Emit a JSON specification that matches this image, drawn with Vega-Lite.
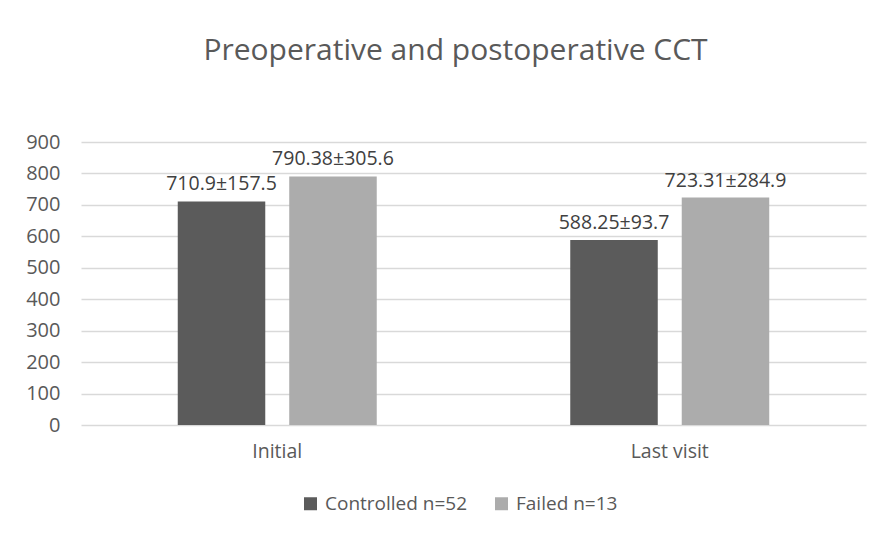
{
  "$schema": "https://vega.github.io/schema/vega-lite/v6.json",
  "width": 785,
  "height": 283,
  "autosize": "none",
  "padding": {"left": 81, "top": 142, "right": 21, "bottom": 108},
  "background": "white",
  "config": {"font": "Open Sans", "view": {"stroke": null}},
  "title": {"text": "Preoperative and postoperative CCT", "fontSize": 30, "fontWeight": "normal", "color": "#595959", "anchor": "middle", "dx": -18, "offset": 66, "font": "Open Sans"},
  "data": {"values": [
    {"visit": "Initial", "group": "Controlled n=52", "value": 710.9, "label": "710.9±157.5"},
    {"visit": "Initial", "group": "Failed n=13", "value": 790.38, "label": "790.38±305.6"},
    {"visit": "Last visit", "group": "Controlled n=52", "value": 588.25, "label": "588.25±93.7"},
    {"visit": "Last visit", "group": "Failed n=13", "value": 723.31, "label": "723.31±284.9"}
  ]},
  "encoding": {
    "x": {"field": "visit", "type": "nominal", "sort": ["Initial", "Last visit"],
      "scale": {"paddingInner": 0.493, "paddingOuter": 0.2465},
      "axis": {"title": null, "labelAngle": 0, "labelFontSize": 19.5, "labelColor": "#595959", "domain": false, "ticks": false, "labelPadding": 17}},
    "xOffset": {"field": "group", "type": "nominal", "sort": ["Controlled n=52", "Failed n=13"], "scale": {"paddingInner": 0.215, "paddingOuter": 0}},
    "y": {"field": "value", "type": "quantitative", "scale": {"domain": [0, 900]},
      "axis": {"title": null, "values": [0, 100, 200, 300, 400, 500, 600, 700, 800, 900], "labelFontSize": 20, "labelColor": "#595959", "domain": false, "ticks": false, "labelPadding": 21, "gridColor": "#d9d9d9", "gridWidth": 1.5}}
  },
  "layer": [
    {"mark": {"type": "bar"},
     "encoding": {"color": {"field": "group", "type": "nominal", "sort": ["Controlled n=52", "Failed n=13"],
       "scale": {"range": ["#5b5b5b", "#acacac"]},
       "legend": {"title": null, "orient": "none", "legendX": 220, "legendY": 352, "direction": "horizontal", "symbolType": "square", "symbolSize": 169, "labelFontSize": 19, "labelColor": "#595959", "labelOffset": 5, "columnPadding": 24, "symbolStrokeWidth": 0}}}},
    {"mark": {"type": "text", "dy": -7, "baseline": "bottom", "fontSize": 19.5, "color": "#404040"},
     "encoding": {"text": {"field": "label"}}}
  ]
}
